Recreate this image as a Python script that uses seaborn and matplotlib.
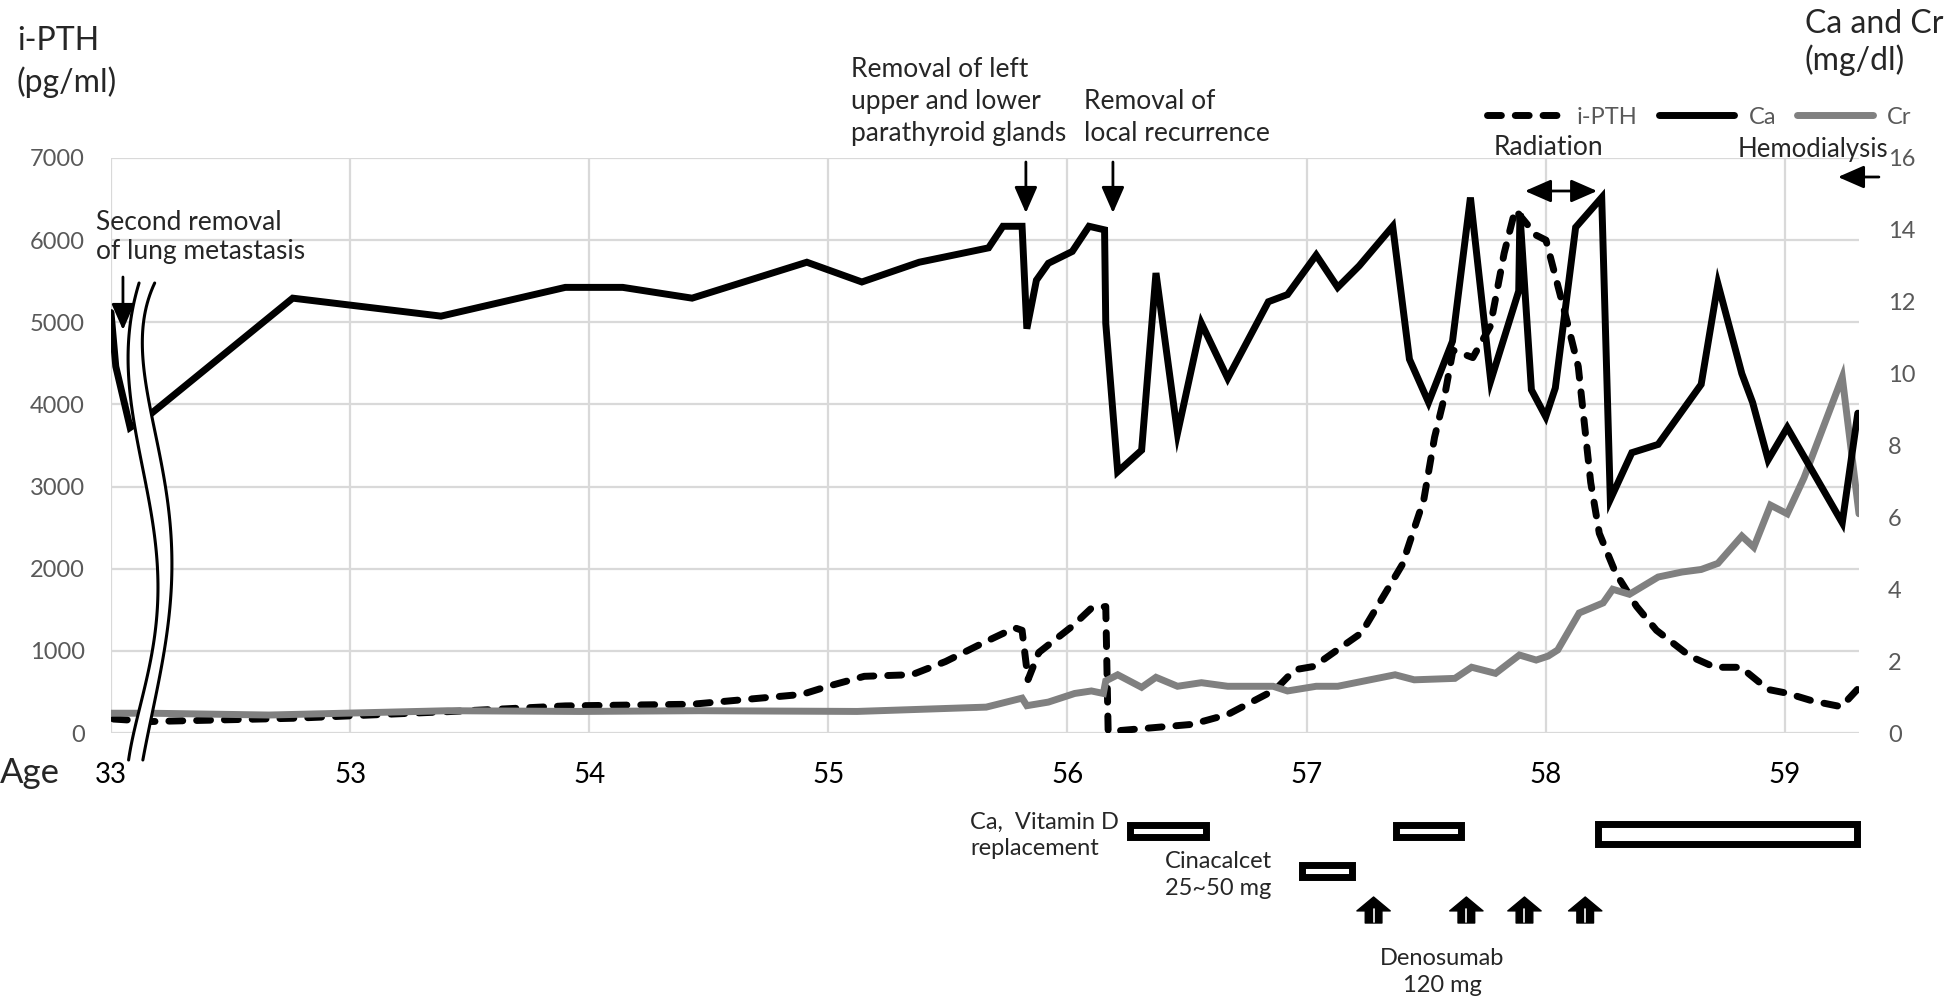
import numpy as np
import pandas as pd
import matplotlib
matplotlib.use("Agg")
import matplotlib.pyplot as plt
from matplotlib.lines import Line2D
from matplotlib.patches import Polygon
import seaborn as sns

# ---------------- data ----------------
# x axis position: 52 = left edge (age 33, before the axis break), then ages 53..59
xtick_pos = [52, 53, 54, 55, 56, 57, 58, 59]
xtick_labels = ["33", "53", "54", "55", "56", "57", "58", "59"]

ca_age = [52.00, 52.02, 52.08, 52.17, 52.76, 53.38, 53.90, 54.14, 54.43, 54.91,
          55.14, 55.38, 55.67, 55.73, 55.81, 55.83, 55.87, 55.92, 56.02, 56.09,
          56.155, 56.16, 56.21, 56.31, 56.37, 56.46, 56.56, 56.67, 56.84, 56.92,
          57.04, 57.13, 57.22, 57.36, 57.43, 57.51, 57.61, 57.685, 57.77, 57.887,
          57.892, 57.94, 58.00, 58.04, 58.125, 58.234, 58.27, 58.36, 58.47, 58.65,
          58.72, 58.82, 58.865, 58.93, 59.01, 59.24, 59.305]
ca_val = [11.7, 10.2, 8.5, 8.9, 12.1, 11.6, 12.4, 12.4, 12.1, 13.1,
          12.55, 13.1, 13.5, 14.1, 14.1, 11.25, 12.6, 13.07, 13.4, 14.1,
          14.0, 11.4, 7.27, 7.87, 12.8, 8.34, 11.4, 9.87, 12.0, 12.2,
          13.3, 12.4, 13.0, 14.1, 10.4, 9.2, 10.9, 14.9, 9.8, 12.3,
          14.45, 9.55, 8.8, 9.6, 14.07, 14.9, 6.5, 7.8, 8.03, 9.7,
          12.5, 10.0, 9.2, 7.6, 8.5, 5.85, 8.9]

pth_age = [52.01, 52.17, 52.77, 53.41, 53.90, 54.43, 54.89, 55.00, 55.15, 55.35,
           55.49, 55.66, 55.78, 55.81, 55.835, 55.88, 56.02, 56.10, 56.16, 56.17,
           56.22, 56.52, 56.67, 56.87, 56.95, 57.03, 57.23, 57.40, 57.49, 57.535,
           57.577, 57.612, 57.695, 57.768, 57.826, 57.872, 57.960, 58.001, 58.084, 58.136,
           58.188, 58.224, 58.292, 58.380, 58.463, 58.603, 58.707, 58.816, 58.930, 59.008,
           59.116, 59.236, 59.303]
pth_val = [170, 140, 180, 260, 330, 350, 470, 570, 690, 710,
           870, 1115, 1280, 1250, 650, 980, 1300, 1520, 1540, 20,
           30, 105, 225, 530, 770, 810, 1220, 2050, 2840, 3600,
           4100, 4660, 4570, 4950, 5840, 6370, 6060, 6000, 5070, 4460,
           3050, 2430, 1950, 1540, 1250, 935, 800, 800, 530, 485,
           390, 320, 530]

cr_age = [52.00, 52.17, 52.66, 53.41, 53.96, 54.46, 55.12, 55.66, 55.81, 55.83,
          55.92, 56.03, 56.10, 56.15, 56.16, 56.21, 56.31, 56.37, 56.46, 56.56,
          56.67, 56.86, 56.92, 57.04, 57.13, 57.37, 57.45, 57.62, 57.69, 57.79,
          57.89, 57.96, 58.01, 58.05, 58.14, 58.24, 58.28, 58.35, 58.47, 58.57,
          58.65, 58.72, 58.82, 58.87, 58.94, 59.01, 59.08, 59.24, 59.31]
cr_val = [0.55, 0.55, 0.5, 0.62, 0.6, 0.62, 0.6, 0.72, 0.97, 0.76,
          0.86, 1.1, 1.17, 1.1, 1.45, 1.62, 1.27, 1.55, 1.3, 1.4,
          1.3, 1.3, 1.17, 1.3, 1.3, 1.62, 1.48, 1.52, 1.83, 1.66,
          2.17, 2.03, 2.14, 2.31, 3.34, 3.62, 4.0, 3.86, 4.34, 4.48,
          4.55, 4.72, 5.48, 5.17, 6.34, 6.1, 7.1, 9.9, 6.1]

# events
lung_removal_age = 52.05
surgery_age = [55.826, 56.19]
radiation_span = (57.913, 58.215)
hemodialysis_start = 59.222

# treatments
cavd_start = [56.26, 57.375, 58.22]
cavd_end = [56.58, 57.645, 59.30]
cina_start = [56.98]
cina_end = [57.19]
deno_age = [57.280, 57.668, 57.911, 58.165]

# ---------------- figure ----------------
sns.set_style("white")
plt.rcParams["font.family"] = ["Lato", "DejaVu Sans"]

W, H = 1946, 998
fig = plt.figure(figsize=(W / 100, H / 100), dpi=100)


def fx(x):
    return x / W


def fy(y):
    return 1 - y / H


AX_L, AX_R, AX_T, AX_B = 111, 1859, 158, 733
ax = fig.add_axes([fx(AX_L), fy(AX_B), fx(AX_R) - fx(AX_L), fy(AX_T) - fy(AX_B)])
ax2 = ax.twinx()

LW = 5.0
DASH = (0, (2.0, 2.0))
GRAY = "#808080"

pth_df = pd.DataFrame({"age": pth_age, "val": pth_val})
ca_df = pd.DataFrame({"age": ca_age, "val": ca_val})
cr_df = pd.DataFrame({"age": cr_age, "val": cr_val})

sns.lineplot(data=pth_df, x="age", y="val", ax=ax, color="black", linewidth=LW,
             linestyle=DASH, dash_capstyle="round", estimator=None, sort=False)
sns.lineplot(data=cr_df, x="age", y="val", ax=ax2, color=GRAY, linewidth=LW,
             estimator=None, sort=False, solid_joinstyle="miter")
sns.lineplot(data=ca_df, x="age", y="val", ax=ax2, color="black", linewidth=LW,
             estimator=None, sort=False, solid_joinstyle="miter")

ax.set_xlim(52, 59.31)
ax.set_ylim(0, 7000)
ax2.set_ylim(0, 16)
ax.set_xticks(xtick_pos)
ax.set_xticklabels(xtick_labels)
ax.set_yticks(range(0, 7001, 1000))
ax2.set_yticks(range(0, 17, 2))
ax.set_xlabel("")
ax.set_ylabel("")
ax2.set_ylabel("")
ax.tick_params(axis="x", length=0, pad=21, labelsize=20, labelcolor="black")
ax.tick_params(axis="y", length=0, pad=19, labelsize=17, labelcolor="#595959")
ax2.tick_params(axis="y", length=0, pad=21, labelsize=17, labelcolor="#595959")
for a in (ax, ax2):
    for s in a.spines.values():
        s.set_visible(False)
ax.grid(True, color="#d9d9d9", linewidth=1.6)
ax.set_axisbelow(True)

# ---- axis break symbol (two wavy lines with white band) ----
yl = np.array([283, 327, 393, 447, 513, 570, 653, 707, 757])
xl = np.array([139, 130, 130, 138, 152, 157, 152, 140, 129])
yr = np.array([287, 327, 370, 410, 513, 553, 637, 707, 760])
xr = np.array([153, 143, 143, 152, 168, 172, 167, 153, 143])
pl = np.polyfit(yl, xl, 5)
pr = np.polyfit(yr, xr, 5)
yy = np.linspace(283, 760, 120)
xxl = np.polyval(pl, yy)
xxr = np.polyval(pr, yy)


def axfx(X):
    return (X - AX_L) / (AX_R - AX_L)


def axfy(Y):
    return (AX_B - Y) / (AX_B - AX_T)


band = np.vstack([np.column_stack([axfx(xxl - 1), axfy(yy)]),
                  np.column_stack([axfx(xxr + 1), axfy(yy)])[::-1]])
ax2.add_patch(Polygon(band, closed=True, transform=ax2.transAxes, fc="white",
                      ec="none", zorder=10, clip_on=False))
for xx in (xxl, xxr):
    ax2.plot(axfx(xx), axfy(yy), transform=ax2.transAxes, color="black",
             lw=2.2, zorder=11, clip_on=False)

# ---- event arrows ----
XY = ("data", "axes fraction")
arr = dict(arrowstyle="-|>,head_length=0.8,head_width=0.35", color="black",
           lw=2, mutation_scale=20, shrinkA=0, shrinkB=0)
ax2.annotate("", xy=(lung_removal_age, axfy(330)), xytext=(lung_removal_age, axfy(277)),
             xycoords=XY, textcoords=XY, arrowprops=arr, zorder=12)
for s in surgery_age:
    ax2.annotate("", xy=(s, axfy(213)), xytext=(s, axfy(162)),
                 xycoords=XY, textcoords=XY, arrowprops=arr, annotation_clip=False)
ax2.annotate("", xy=(radiation_span[1], axfy(191)), xytext=(radiation_span[0], axfy(191)),
             xycoords=XY, textcoords=XY, annotation_clip=False,
             arrowprops=dict(arrowstyle="<|-|>,head_length=0.8,head_width=0.35",
                             color="black", lw=2, mutation_scale=20, shrinkA=0, shrinkB=0))
ax2.annotate("", xy=(hemodialysis_start, axfy(177)),
             xytext=(hemodialysis_start + 41 / 239.4, axfy(177)),
             xycoords=XY, textcoords=XY, arrowprops=arr, annotation_clip=False)

# ---- texts ----
TT = 23
fig.text(fx(17), fy(50), "i-PTH", fontsize=TT, va="baseline", ha="left")
fig.text(fx(17), fy(92), "(pg/ml)", fontsize=TT, va="baseline", ha="left")
fig.text(fx(1805), fy(33), "Ca and Cr", fontsize=TT, va="baseline", ha="left")
fig.text(fx(1805), fy(70), "(mg/dl)", fontsize=TT, va="baseline", ha="left")
fig.text(fx(0), fy(783), "Age", fontsize=25, va="baseline", ha="left")

AS = 19
for txt, x, y in [("Second removal", 96, 230), ("of lung metastasis", 96, 259),
                  ("Removal of left", 851, 77), ("upper and lower", 851, 109),
                  ("parathyroid glands", 851, 141), ("Removal of", 1084, 109),
                  ("local recurrence", 1084, 141)]:
    fig.text(fx(x), fy(y), txt, fontsize=AS, va="baseline", ha="left")
fig.text(fx(1548), fy(155), "Radiation", fontsize=AS, va="baseline", ha="center")
fig.text(fx(1738), fy(157), "Hemodialysis", fontsize=18.5, va="baseline", ha="left")

BS = 17
for txt, x, y in [("Ca,  Vitamin D", 970, 829), ("replacement", 970, 855),
                  ("Cinacalcet", 1165, 868), ("25~50 mg", 1165, 895)]:
    fig.text(fx(x), fy(y), txt, fontsize=BS, va="baseline", ha="left")
fig.text(fx(1442), fy(965), "Denosumab", fontsize=BS, va="baseline", ha="center")
fig.text(fx(1442), fy(992), "120 mg", fontsize=BS, va="baseline", ha="center")

# ---- legend ----
handles = [Line2D([], [], color="black", lw=LW, linestyle=DASH, dash_capstyle="round"),
           Line2D([], [], color="black", lw=LW, solid_capstyle="round"),
           Line2D([], [], color=GRAY, lw=LW, solid_capstyle="round")]
fig.legend(handles, ["i-PTH", "Ca", "Cr"], loc="center left",
           bbox_to_anchor=(fx(1487), fy(117)), ncol=3, frameon=False, fontsize=17,
           handlelength=3.2, handletextpad=0.6, columnspacing=0.9, borderpad=0,
           borderaxespad=0, labelcolor="#595959")

# ---- treatment panel below ----
axb = fig.add_axes([fx(AX_L), 0, fx(AX_R) - fx(AX_L), fy(800)], sharex=ax)
axb.set_ylim(998, 800)
axb.axis("off")
s = np.array(cavd_start)
e = np.array(cavd_end)
axb.barh([831, 831], (e - s)[:2], left=s[:2], height=12, color="white",
         edgecolor="black", linewidth=5, clip_on=False)
axb.barh([834], (e - s)[2:], left=s[2:], height=20, color="white",
         edgecolor="black", linewidth=5, clip_on=False)
cs = np.array(cina_start)
ce = np.array(cina_end)
axb.barh([871] * len(cs), ce - cs, left=cs, height=12, color="white",
         edgecolor="black", linewidth=5, clip_on=False)
for d in deno_age:
    axb.annotate("", xy=(d, 897), xytext=(d, 923), xycoords="data",
                 arrowprops=dict(arrowstyle="simple,head_length=0.5,head_width=1.2,tail_width=0.6",
                                 fc="black", ec="black", lw=1, mutation_scale=20,
                                 shrinkA=0, shrinkB=0))
    axb.plot([d, d], [909, 922], color="white", lw=1.2, zorder=5)

fig.savefig("out.png", dpi=100)
